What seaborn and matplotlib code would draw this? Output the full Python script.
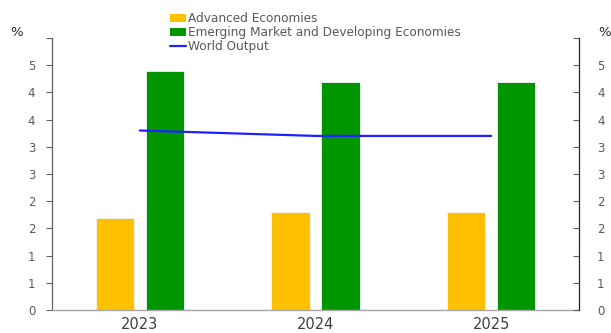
import numpy as np
import pandas as pd
import matplotlib
matplotlib.use("Agg")
import matplotlib.pyplot as plt
import seaborn as sns
from matplotlib.patches import Patch
from matplotlib.lines import Line2D

years = ["2023", "2024", "2025"]
advanced = [1.7, 1.8, 1.8]
emerging = [4.4, 4.2, 4.2]
world = [3.3, 3.2, 3.2]
series_names = ["Advanced Economies", "Emerging Market and Developing Economies", "World Output"]
ytick_values = [0, 0.5, 1, 1.5, 2, 2.5, 3, 3.5, 4, 4.5, 5]
ytick_labels = ["0", "1", "1", "2", "2", "3", "3", "4", "4", "5", ""]

YELLOW = "#FFC000"
GREEN = "#009600"
BLUE = "#1F1FFF"
TEXT = "#595959"

sns.set_theme(style="white")
plt.rcParams["font.family"] = ["DejaVu Sans"]

bars = pd.DataFrame({
    "year": years * 2,
    "value": advanced + emerging,
    "series": [series_names[0]] * 3 + [series_names[1]] * 3,
})

fig = plt.figure(figsize=(6.11, 3.33), dpi=100)
ax = fig.add_axes([52 / 611, 1 - 310 / 333, (579 - 52) / 611, (310 - 38) / 333])

sns.barplot(data=bars, x="year", y="value", hue="series",
            palette=[YELLOW, GREEN], saturation=1, width=0.57, gap=0.23,
            edgecolor="#f4f4f4", linewidth=0.6, ax=ax, legend=False)
sns.lineplot(x=np.arange(len(years)), y=world, color=BLUE, linewidth=1.6, ax=ax)

ax.set_xlim(-0.5, len(years) - 0.5)
ax.set_ylim(0, 5)
ax.set_xlabel("")
ax.set_ylabel("")
ax.set_yticks(ytick_values)
ax.set_yticklabels(ytick_labels)
ax.set_xticks(range(len(years)))
ax.set_xticklabels(years)
ax.set_xticks([0.5, 1.5], minor=True)
ax.tick_params(axis="x", which="major", length=0, pad=5, labelsize=10.5, labelcolor="#404040")
ax.tick_params(axis="x", which="minor", length=4, width=0.8, color="#404040", direction="out")
ax.tick_params(axis="y", length=4, width=0.8, color="#606060", direction="out",
               pad=8, labelsize=8.5, labelcolor=TEXT, left=True)

for side in ["top", "right"]:
    ax.spines[side].set_visible(False)
ax.spines["left"].set_color("#606060")
ax.spines["left"].set_linewidth(0.9)
ax.spines["bottom"].set_color("#a6a6a6")
ax.spines["bottom"].set_linewidth(1.0)

ax2 = ax.twinx()
ax2.set_ylim(0, 5)
ax2.set_yticks(ytick_values)
ax2.set_yticklabels(ytick_labels)
ax2.tick_params(axis="y", length=4, width=0.8, color="#606060", direction="in",
                pad=13, labelsize=8.5, labelcolor=TEXT, right=True)
for side in ["top", "left", "bottom"]:
    ax2.spines[side].set_visible(False)
ax2.spines["right"].set_color("#262626")
ax2.spines["right"].set_linewidth(0.9)

fig.text(10 / 611, 1 - 33 / 333, "%", ha="left", va="center", fontsize=9.5, color="#262626")
fig.text(598 / 611, 1 - 33 / 333, "%", ha="left", va="center", fontsize=9.5, color="#262626")

handles = [Patch(facecolor=YELLOW, edgecolor="none"),
           Patch(facecolor=GREEN, edgecolor="none"),
           Line2D([0], [0], color=BLUE, linewidth=1.6)]
fig.legend(handles, series_names, loc="upper left",
           bbox_to_anchor=(170 / 611, 1 - 12.5 / 333), frameon=False,
           fontsize=8.7, labelcolor=TEXT, handlelength=1.35, handleheight=0.6,
           handletextpad=0.15, labelspacing=0.08, borderpad=0, borderaxespad=0)

fig.savefig("out.png", dpi=100)
